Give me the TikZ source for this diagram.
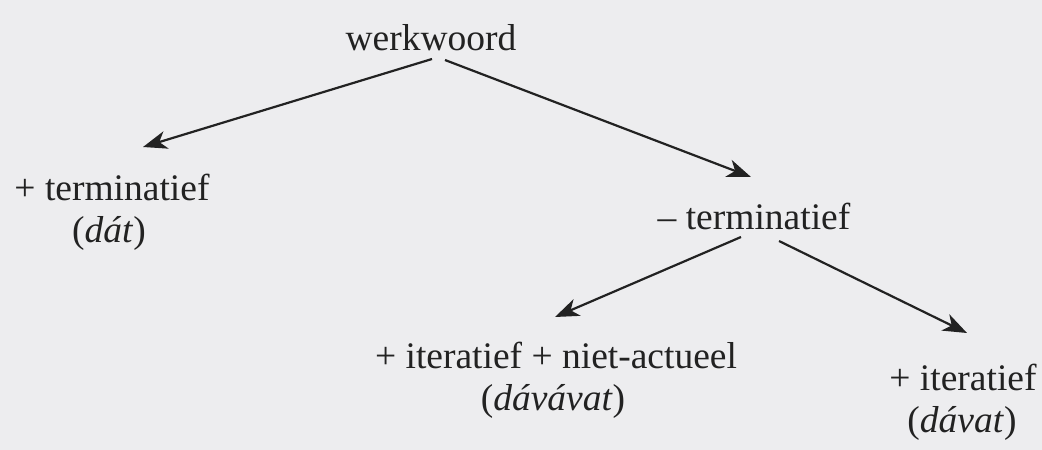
\documentclass[tikz,border=0pt]{standalone}
\usepackage{fontspec}
\setmainfont{Liberation Serif}
\usetikzlibrary{arrows.meta,calc}
\definecolor{paper}{HTML}{EDEDEF}
\definecolor{ink}{HTML}{222222}
\begin{document}
\begin{tikzpicture}[x=1pt,y=-1pt,
  lbl/.style={anchor=base,inner sep=0pt,text=ink,font=\fontsize{37.5}{43}\selectfont},
  arr/.style={draw=ink,line width=2.2pt,-{Stealth[length=24pt,width=18pt,inset=7pt]}}]
\fill[paper] (0,0) rectangle (1042,450);
\useasboundingbox (0,0) rectangle (1042,450);
\node[lbl] (w) at (431,50) {werkwoord};
\node[lbl] (pt) at (112,200) {+ terminatief};
\node[lbl] (dat) at (109,242) {(\textit{dát})};
\node[lbl] (mt) at (754,229) {– terminatief};
\node[lbl] (it2) at (556,368) {+ iteratief + niet-actueel};
\node[lbl] (dvv) at (553,410) {(\textit{dávávat})};
\node[lbl] (it1) at (963,390) {+ iteratief};
\node[lbl] (dv) at (962,432) {(\textit{dávat})};
\draw[arr] ($(w.base)+(1,9)$) -- ($(pt.base)+(31,-53)$);
\draw[arr] ($(w.base)+(14,10)$) -- ($(mt.base)+(-3,-52)$);
\draw[arr] ($(mt.base)+(-13,8)$) -- ($(it2.base)+(-1,-51)$);
\draw[arr] ($(mt.base)+(25,12)$) -- ($(it1.base)+(4,-57)$);
\end{tikzpicture}
\end{document}
